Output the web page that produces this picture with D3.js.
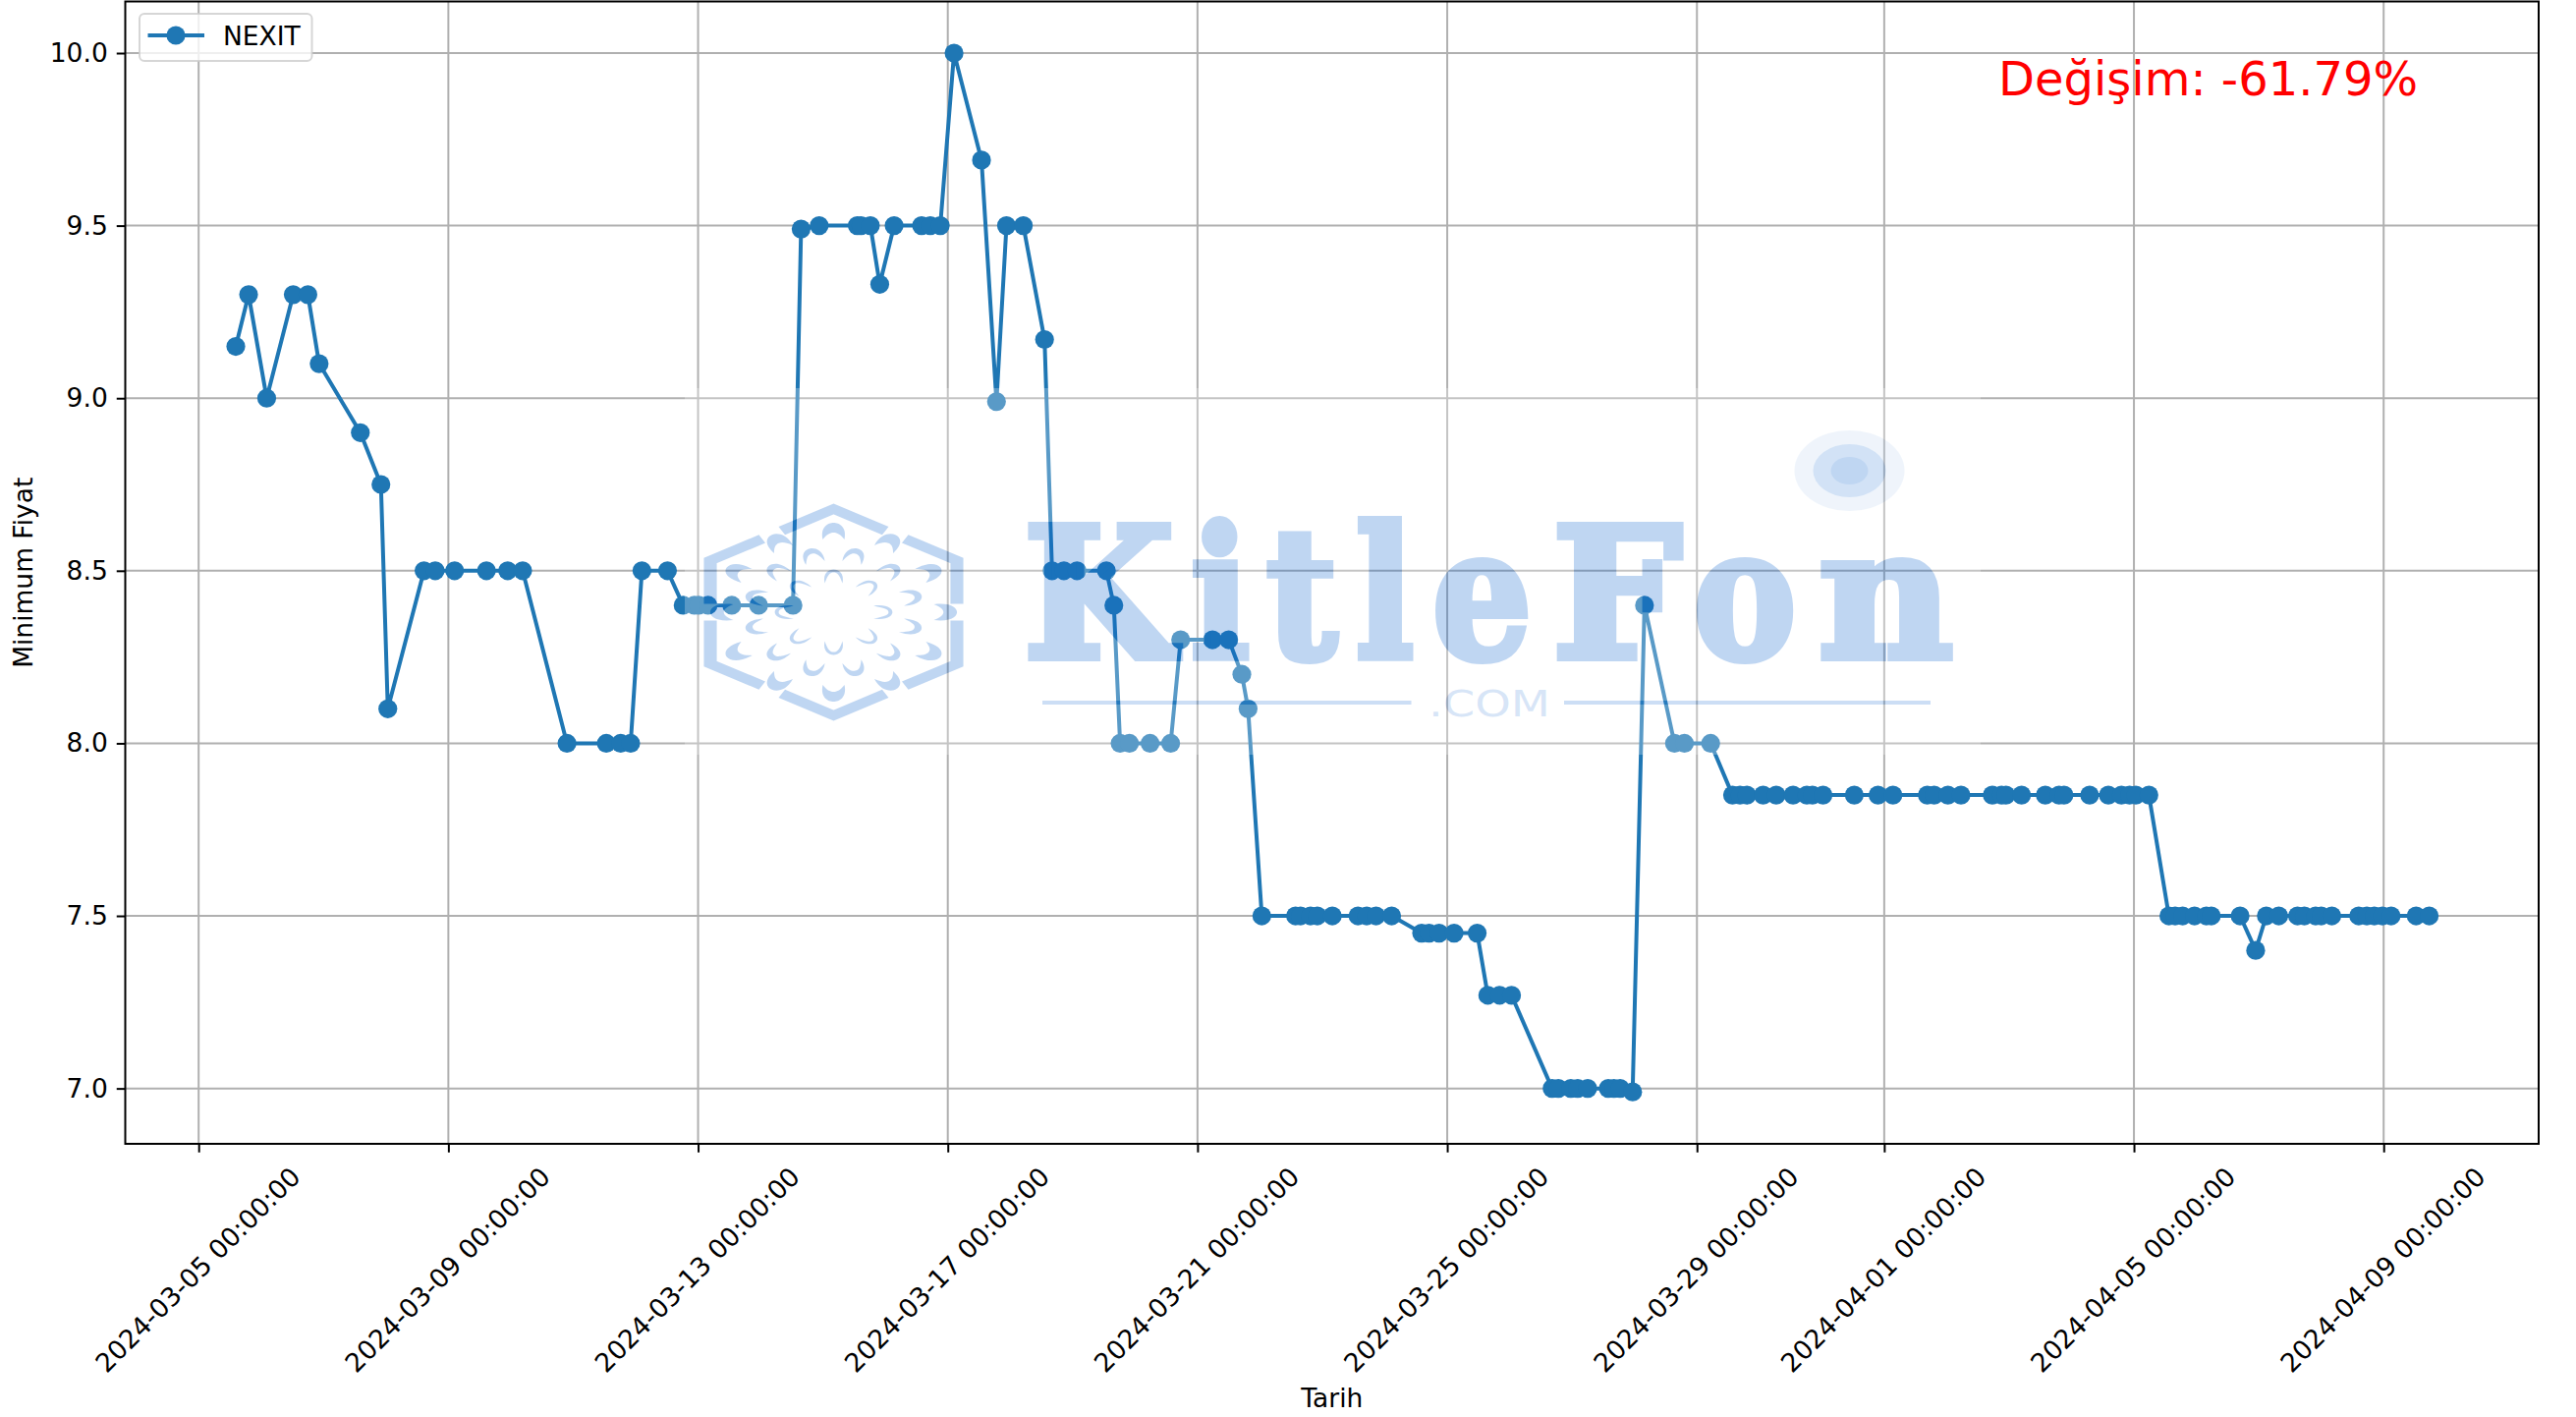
<!DOCTYPE html>
<html>
<head>
<meta charset="utf-8">
<script src="https://cdn.jsdelivr.net/npm/d3@7/dist/d3.min.js"></script>
<style>
html,body{margin:0;padding:0;background:#fff}
svg{display:block}
text{font-family:"DejaVu Sans",sans-serif;fill:#000}
</style>
</head>
<body>
<div id="chart"></div>
<script>
const seriesName = "NEXIT";
const xTitle = "Tarih";
const yTitle = "Minimum Fiyat";
const changeLabel = "Değişim: -61.79%";
const startDate = "2024-03-05T00:00:00Z";
const xTickLabels = ["2024-03-05","2024-03-09","2024-03-13","2024-03-17","2024-03-21","2024-03-25","2024-03-29","2024-04-01","2024-04-05","2024-04-09"];
const yTickValues = [7.0,7.5,8.0,8.5,9.0,9.5,10.0];

// days elapsed since 2024-03-05 00:00
const elapsedDays = [
 0.595,0.80,1.09,1.515,1.75,1.93,2.59,2.92,3.03,3.61,3.79,4.10,4.61,4.95,5.19,
 5.90,6.53,6.76,6.92,7.10,7.51,
 7.76,7.94,8.01,8.16,8.54,8.97,9.52,
 9.65,9.94,10.55,10.61,10.76,10.91,11.14,11.58,11.72,11.88,12.10,12.54,12.78,12.94,13.21,13.55,
 13.67,13.86,14.07,14.54,14.66,14.76,14.91,15.24,15.57,15.73,16.24,16.50,16.71,16.81,
 17.03,17.57,17.65,17.81,17.92,18.16,18.57,18.71,18.86,19.11,
 19.59,19.71,19.87,20.11,20.48,20.65,20.84,21.03,
 21.68,21.78,21.98,22.09,22.25,22.58,22.67,22.77,22.97,23.16,23.64,23.80,24.22,
 24.57,24.69,24.80,25.06,25.27,25.54,25.76,25.85,26.02,26.52,26.90,27.14,27.69,27.80,28.02,28.23,
 28.73,28.88,28.95,29.20,29.58,29.80,29.88,30.29,30.59,30.80,30.93,31.03,31.24,
 31.56,31.66,31.78,31.97,32.16,32.24,32.70,32.95,33.12,33.32,33.62,33.73,33.91,34.00,34.17,
 34.60,34.73,34.85,34.98,35.12,35.52,35.73
];
const minPrice = [
 9.15,9.3,9.0,9.3,9.3,9.1,8.9,8.75,8.1,8.5,8.5,8.5,8.5,8.5,8.5,
 8.0,8.0,8.0,8.0,8.5,8.5,
 8.4,8.4,8.4,8.4,8.4,8.4,8.4,
 9.49,9.5,9.5,9.5,9.5,9.33,9.5,9.5,9.5,9.5,10.0,9.69,8.99,9.5,9.5,9.17,
 8.5,8.5,8.5,8.5,8.4,8.0,8.0,8.0,8.0,8.3,8.3,8.3,8.2,8.1,
 7.5,7.5,7.5,7.5,7.5,7.5,7.5,7.5,7.5,7.5,
 7.45,7.45,7.45,7.45,7.45,7.27,7.27,7.27,
 7.0,7.0,7.0,7.0,7.0,7.0,7.0,7.0,6.99,8.4,8.0,8.0,8.0,
 7.85,7.85,7.85,7.85,7.85,7.85,7.85,7.85,7.85,7.85,7.85,7.85,7.85,7.85,7.85,7.85,
 7.85,7.85,7.85,7.85,7.85,7.85,7.85,7.85,7.85,7.85,7.85,7.85,7.85,
 7.5,7.5,7.5,7.5,7.5,7.5,7.5,7.4,7.5,7.5,7.5,7.5,7.5,7.5,7.5,
 7.5,7.5,7.5,7.5,7.5,7.5,7.5
];
const wmLetters = ["K","i","t","l","e","F","o","n"];
const wmLetterLeft = [1038,1208,1285,1376,1454,1576,1720,1847];
const wmLetterWidth = [157,64,76,63,105,136,108,141];

const W = 2622, H = 1442;
const plot = {left:127.5, right:2584, top:1.5, bottom:1164};
const BLUE = "#1f77b4", GRID = "#b0b0b0";
const FS = 26.5;
const DAY = 864e5;
const t0 = new Date(startDate).getTime();
const toDate = d => new Date(t0 + d*DAY);
const data = elapsedDays.map((d,i)=>({date:toDate(d), value:minPrice[i]}));

const x = d3.scaleUtc().domain([toDate(-1.1755), toDate(37.483)]).range([plot.left, plot.right]);
const y = d3.scaleLinear().domain([6.8395,10.1495]).range([plot.bottom, plot.top]);

const svg = d3.select("#chart").append("svg").attr("width",W).attr("height",H).attr("viewBox",`0 0 ${W} ${H}`);
svg.append("rect").attr("width",W).attr("height",H).attr("fill","#fff");

const xTicks = xTickLabels.map(s=>new Date(s+"T00:00:00Z"));

const xAxis = d3.axisBottom(x).tickValues(xTicks).tickSize(8.75).tickPadding(0).tickFormat(d3.utcFormat("%Y-%m-%d %H:%M:%S"));
const yAxis = d3.axisLeft(y).tickValues(yTickValues).tickSize(8.75).tickPadding(9).tickFormat(d3.format(".1f"));

const gridG = svg.append("g");
gridG.selectAll("line.v").data(xTicks).join("line").attr("class","v")
  .attr("x1",d=>x(d)).attr("x2",d=>x(d)).attr("y1",plot.top).attr("y2",plot.bottom)
  .attr("stroke",GRID).attr("stroke-width",2);
gridG.selectAll("line.h").data(yTickValues).join("line").attr("class","h")
  .attr("x1",plot.left).attr("x2",plot.right).attr("y1",d=>y(d)).attr("y2",d=>y(d))
  .attr("stroke",GRID).attr("stroke-width",2);

const line = d3.line().x(d=>x(d.date)).y(d=>y(d.value));
svg.append("path").datum(data).attr("d",line).attr("fill","none").attr("stroke",BLUE)
  .attr("stroke-width",4).attr("stroke-linejoin","round");
svg.append("g").selectAll("circle").data(data).join("circle")
  .attr("cx",d=>x(d.date)).attr("cy",d=>y(d.value)).attr("r",9.6).attr("fill",BLUE);

const gx = svg.append("g").attr("transform",`translate(0,${plot.bottom})`).call(xAxis);
gx.select(".domain").remove();
gx.selectAll(".tick line").attr("stroke","#000").attr("stroke-width",2);
gx.selectAll(".tick text")
  .attr("font-size",FS).attr("text-anchor","middle").attr("dy",null).attr("y",null)
  .attr("dominant-baseline","central")
  .attr("transform","translate(-1.5,128) rotate(-45)");

const gy = svg.append("g").attr("transform",`translate(${plot.left},0)`).call(yAxis);
gy.select(".domain").remove();
gy.selectAll(".tick line").attr("stroke","#000").attr("stroke-width",2);
gy.selectAll(".tick text").attr("font-size",FS);

svg.append("rect").attr("x",plot.left).attr("y",plot.top)
  .attr("width",plot.right-plot.left).attr("height",plot.bottom-plot.top)
  .attr("fill","none").attr("stroke","#000").attr("stroke-width",2);

svg.append("text").attr("x",(plot.left+plot.right)/2).attr("y",1432).attr("text-anchor","middle").attr("font-size",FS).text(xTitle);
svg.append("text").attr("transform",`translate(33,${(plot.top+plot.bottom)/2}) rotate(-90)`).attr("text-anchor","middle").attr("font-size",FS).text(yTitle);

const lg = svg.append("g");
lg.append("rect").attr("x",142).attr("y",14).attr("width",175.5).attr("height",48).attr("rx",5)
  .attr("fill","#fff").attr("fill-opacity",0.8).attr("stroke","#ccc").attr("stroke-opacity",0.8).attr("stroke-width",2);
lg.append("line").attr("x1",150.5).attr("x2",208).attr("y1",36).attr("y2",36).attr("stroke",BLUE).attr("stroke-width",4);
lg.append("circle").attr("cx",179).attr("cy",36).attr("r",9.6).attr("fill",BLUE);
lg.append("text").attr("x",227).attr("y",46).attr("font-size",FS).text(seriesName);

svg.append("text").attr("x",2034).attr("y",97).attr("font-size",48).style("fill","#ff0000").text(changeLabel);

// watermark image laid over everything
const WM = "#0c64d0";
const wm = svg.append("g").attr("opacity",0.26).attr("pointer-events","none");
wm.append("rect").attr("x",697).attr("y",395).attr("width",1319).attr("height",373).attr("fill","#fff");
wm.selectAll("text.letter").data(wmLetters).join("text").attr("class","letter")
  .attr("x",(d,i)=>wmLetterLeft[i]+4).attr("y",669).attr("font-size",184)
  .attr("textLength",(d,i)=>wmLetterWidth[i]-4).attr("lengthAdjust","spacingAndGlyphs")
  .style("font-family","'DejaVu Serif',serif").style("font-weight","bold").style("fill",WM)
  .attr("stroke",WM).attr("stroke-width",8).text(d=>d);
wm.append("text").attr("x",1454).attr("y",729).attr("font-size",38)
  .attr("textLength",124).attr("lengthAdjust","spacingAndGlyphs")
  .style("fill",WM).attr("fill-opacity",0.65).text(".COM");
[[1061,1436.5],[1592,1965]].forEach(([a,b])=>{
  wm.append("line").attr("x1",a).attr("x2",b).attr("y1",715).attr("y2",715).attr("stroke",WM).attr("stroke-opacity",0.8).attr("stroke-width",4);
});
[[56,41,0.25],[37,27,0.6],[19,14,1]].forEach(([rx,ry,o])=>{
  wm.append("ellipse").attr("cx",1882.5).attr("cy",479).attr("rx",rx).attr("ry",ry).attr("fill",WM).attr("fill-opacity",o);
});
const hex = wm.append("g").attr("transform","translate(848.5,623) scale(1.38,1)");
const R = 105;
const verts = d3.range(6).map(i=>{const a=i*Math.PI/3;return [R*Math.sin(a),-R*Math.cos(a)];});
const lerp=(p,q,t)=>[p[0]+(q[0]-p[0])*t,p[1]+(q[1]-p[1])*t];
verts.forEach((v,i)=>{
  const prev=verts[(i+5)%6], next=verts[(i+1)%6];
  hex.append("path").attr("d",d3.line()([lerp(v,prev,0.42),v,lerp(v,next,0.42)]))
    .attr("fill","none").attr("stroke",WM).attr("stroke-width",9.5).attr("stroke-linejoin","miter");
});
const petal = d => `M-8,8C-10,-5-4,-9,0,-9C4,-9,10,-5,8,8C5,${d+2},3,${d},0,${d}C-3,${d},-5,${d+2},-8,8Z`;
[[12,82,0,1,1],[12,59,15,-3,0.9],[8,36,0,-5.5,0.82]].forEach(([n,r,off,depth,sc])=>{
  d3.range(n).forEach(i=>{
    hex.append("path").attr("d",petal(depth)).attr("fill",WM)
      .attr("transform",`rotate(${off+i*360/n}) translate(0,${-r}) scale(${sc})`);
  });
});
</script>
</body>
</html>
